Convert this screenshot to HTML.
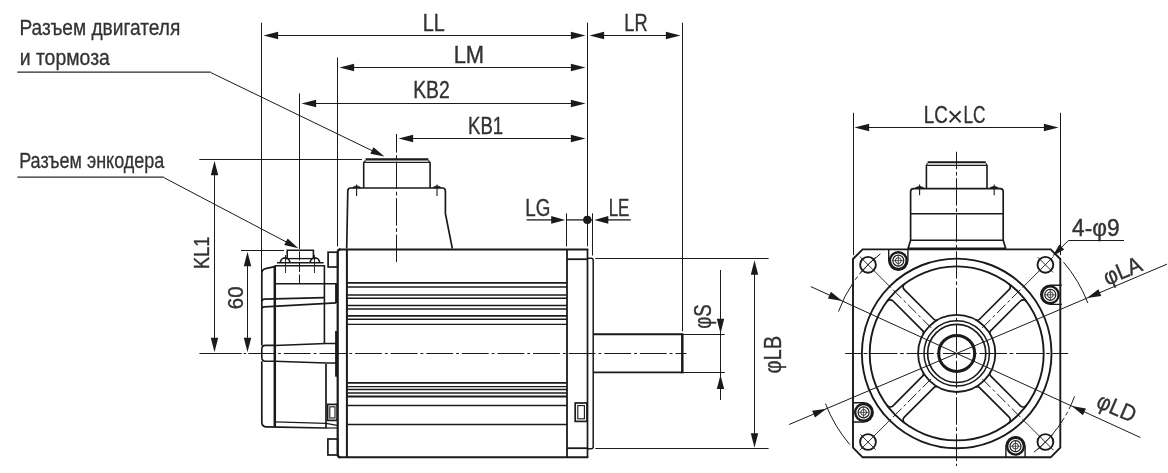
<!DOCTYPE html>
<html><head><meta charset="utf-8"><title>Motor dimensions</title>
<style>
html,body{margin:0;padding:0;background:#fff;}
body{width:1168px;height:473px;overflow:hidden;}
svg{display:block;font-family:"Liberation Sans",sans-serif;will-change:transform;}
</style></head><body>
<svg width="1168" height="473" viewBox="0 0 1168 473">
<rect x="0" y="0" width="1168" height="473" fill="#ffffff"/>
<text x="19.51" y="34.70" font-size="21.8" textLength="160.74" lengthAdjust="spacingAndGlyphs" text-anchor="start" fill="#333131" stroke="#333131" stroke-width="0.3">Разъем двигателя</text>
<text x="19.71" y="64.70" font-size="21.8" textLength="90.14" lengthAdjust="spacingAndGlyphs" text-anchor="start" fill="#333131" stroke="#333131" stroke-width="0.3">и тормоза</text>
<line x1="17.30" y1="72.10" x2="210.70" y2="72.10" stroke="#2a2a2a" stroke-width="1.2" stroke-linecap="butt"/>
<line x1="210.70" y1="72.50" x2="379.00" y2="154.00" stroke="#1a1a1a" stroke-width="1.0" stroke-linecap="butt"/>
<polygon points="384.50,156.50 370.33,153.64 373.47,147.16" fill="#1a1a1a"/>
<text x="19.19" y="168.20" font-size="21.8" textLength="145.16" lengthAdjust="spacingAndGlyphs" text-anchor="start" fill="#333131" stroke="#333131" stroke-width="0.3">Разъем энкодера</text>
<line x1="17.30" y1="177.10" x2="163.70" y2="177.10" stroke="#2a2a2a" stroke-width="1.2" stroke-linecap="butt"/>
<line x1="163.70" y1="177.50" x2="293.00" y2="245.50" stroke="#1a1a1a" stroke-width="1.0" stroke-linecap="butt"/>
<polygon points="298.30,248.30 284.24,244.94 287.61,238.57" fill="#1a1a1a"/>
<line x1="261.50" y1="22.70" x2="261.50" y2="272.00" stroke="#1a1a1a" stroke-width="1.0" stroke-linecap="butt"/>
<line x1="587.50" y1="22.70" x2="587.50" y2="246.30" stroke="#1a1a1a" stroke-width="1.0" stroke-linecap="butt"/>
<line x1="682.50" y1="22.70" x2="682.50" y2="331.30" stroke="#1a1a1a" stroke-width="1.0" stroke-linecap="butt"/>
<line x1="337.50" y1="57.40" x2="337.50" y2="246.30" stroke="#1a1a1a" stroke-width="1.0" stroke-linecap="butt"/>
<line x1="299.50" y1="93.40" x2="299.50" y2="240.00" stroke="#1a1a1a" stroke-width="1.0" stroke-linecap="butt"/>
<line x1="266.50" y1="35.50" x2="582.50" y2="35.50" stroke="#1a1a1a" stroke-width="1.0" stroke-linecap="butt"/>
<polygon points="263.50,35.50 278.10,31.80 278.10,39.20" fill="#1a1a1a"/>
<polygon points="585.50,35.50 570.90,39.20 570.90,31.80" fill="#1a1a1a"/>
<text x="422.76" y="30.50" font-size="23.0" textLength="22.02" lengthAdjust="spacingAndGlyphs" text-anchor="start" fill="#333131" stroke="#333131" stroke-width="0.36">LL</text>
<line x1="592.50" y1="35.50" x2="677.50" y2="35.50" stroke="#1a1a1a" stroke-width="1.0" stroke-linecap="butt"/>
<polygon points="589.50,35.50 604.10,31.80 604.10,39.20" fill="#1a1a1a"/>
<polygon points="680.50,35.50 665.90,39.20 665.90,31.80" fill="#1a1a1a"/>
<text x="624.29" y="30.50" font-size="23.0" textLength="23.28" lengthAdjust="spacingAndGlyphs" text-anchor="start" fill="#333131" stroke="#333131" stroke-width="0.36">LR</text>
<line x1="342.50" y1="67.50" x2="582.50" y2="67.50" stroke="#1a1a1a" stroke-width="1.0" stroke-linecap="butt"/>
<polygon points="339.50,67.50 354.10,63.80 354.10,71.20" fill="#1a1a1a"/>
<polygon points="585.50,67.50 570.90,71.20 570.90,63.80" fill="#1a1a1a"/>
<text x="453.68" y="62.50" font-size="23.0" textLength="30.43" lengthAdjust="spacingAndGlyphs" text-anchor="start" fill="#333131" stroke="#333131" stroke-width="0.36">LM</text>
<line x1="304.50" y1="103.50" x2="582.50" y2="103.50" stroke="#1a1a1a" stroke-width="1.0" stroke-linecap="butt"/>
<polygon points="301.50,103.50 316.10,99.80 316.10,107.20" fill="#1a1a1a"/>
<polygon points="585.50,103.50 570.90,107.20 570.90,99.80" fill="#1a1a1a"/>
<text x="413.19" y="97.90" font-size="23.0" textLength="36.60" lengthAdjust="spacingAndGlyphs" text-anchor="start" fill="#333131" stroke="#333131" stroke-width="0.36">KB2</text>
<line x1="401.50" y1="138.50" x2="582.50" y2="138.50" stroke="#1a1a1a" stroke-width="1.0" stroke-linecap="butt"/>
<polygon points="398.50,138.50 413.10,134.80 413.10,142.20" fill="#1a1a1a"/>
<polygon points="585.50,138.50 570.90,142.20 570.90,134.80" fill="#1a1a1a"/>
<text x="468.06" y="133.50" font-size="23.0" textLength="35.07" lengthAdjust="spacingAndGlyphs" text-anchor="start" fill="#333131" stroke="#333131" stroke-width="0.36">KB1</text>
<line x1="199.30" y1="159.50" x2="362.00" y2="159.50" stroke="#1a1a1a" stroke-width="1.0" stroke-linecap="butt"/>
<line x1="214.50" y1="163.70" x2="214.50" y2="349.30" stroke="#1a1a1a" stroke-width="1.0" stroke-linecap="butt"/>
<polygon points="214.50,160.70 218.20,175.30 210.80,175.30" fill="#1a1a1a"/>
<polygon points="214.50,352.30 210.80,337.70 218.20,337.70" fill="#1a1a1a"/>
<text x="209.20" y="268.90" font-size="22.4" textLength="32.21" lengthAdjust="spacingAndGlyphs" text-anchor="start" fill="#333131" stroke="#333131" stroke-width="0.36" transform="rotate(-90 209.20 268.90)">KL1</text>
<line x1="241.00" y1="250.50" x2="284.00" y2="250.50" stroke="#1a1a1a" stroke-width="1.0" stroke-linecap="butt"/>
<line x1="247.50" y1="254.70" x2="247.50" y2="349.30" stroke="#1a1a1a" stroke-width="1.0" stroke-linecap="butt"/>
<polygon points="247.50,251.70 251.20,266.30 243.80,266.30" fill="#1a1a1a"/>
<polygon points="247.50,352.30 243.80,337.70 251.20,337.70" fill="#1a1a1a"/>
<text x="243.00" y="309.15" font-size="22.4" textLength="22.56" lengthAdjust="spacingAndGlyphs" text-anchor="start" fill="#333131" stroke="#333131" stroke-width="0.36" transform="rotate(-90 243.00 309.15)">60</text>
<line x1="526.60" y1="219.90" x2="553.00" y2="219.90" stroke="#1a1a1a" stroke-width="1.3" stroke-linecap="butt"/>
<line x1="566.50" y1="219.90" x2="592.50" y2="219.90" stroke="#1a1a1a" stroke-width="1.3" stroke-linecap="butt"/>
<line x1="606.00" y1="219.90" x2="630.80" y2="219.90" stroke="#1a1a1a" stroke-width="1.3" stroke-linecap="butt"/>
<line x1="566.50" y1="213.30" x2="566.50" y2="246.30" stroke="#1a1a1a" stroke-width="1.0" stroke-linecap="butt"/>
<line x1="592.50" y1="213.30" x2="592.50" y2="255.50" stroke="#1a1a1a" stroke-width="1.0" stroke-linecap="butt"/>
<polygon points="565.20,219.90 551.20,223.80 551.20,216.00" fill="#1a1a1a"/>
<polygon points="594.30,219.90 608.30,216.00 608.30,223.80" fill="#1a1a1a"/>
<circle cx="587.30" cy="219.90" r="4.10" fill="#1a1a1a" stroke="#1a1a1a" stroke-width="0"/>
<text x="525.24" y="215.70" font-size="23.0" textLength="25.09" lengthAdjust="spacingAndGlyphs" text-anchor="start" fill="#333131" stroke="#333131" stroke-width="0.36">LG</text>
<text x="608.69" y="215.70" font-size="23.0" textLength="20.76" lengthAdjust="spacingAndGlyphs" text-anchor="start" fill="#333131" stroke="#333131" stroke-width="0.36">LE</text>
<line x1="682.50" y1="334.50" x2="724.70" y2="334.50" stroke="#1a1a1a" stroke-width="1.0" stroke-linecap="butt"/>
<line x1="682.50" y1="372.50" x2="724.70" y2="372.50" stroke="#1a1a1a" stroke-width="1.0" stroke-linecap="butt"/>
<line x1="720.50" y1="270.00" x2="720.50" y2="400.00" stroke="#1a1a1a" stroke-width="1.0" stroke-linecap="butt"/>
<polygon points="720.50,333.40 716.80,318.80 724.20,318.80" fill="#1a1a1a"/>
<polygon points="720.50,375.00 724.20,389.00 716.80,389.00" fill="#1a1a1a"/>
<text x="710.70" y="328.79" font-size="23.0" textLength="24.47" lengthAdjust="spacingAndGlyphs" text-anchor="start" fill="#333131" stroke="#333131" stroke-width="0.36" transform="rotate(-90 710.70 328.79)">φS</text>
<line x1="595.30" y1="258.50" x2="768.60" y2="258.50" stroke="#1a1a1a" stroke-width="1.0" stroke-linecap="butt"/>
<line x1="595.30" y1="448.50" x2="768.60" y2="448.50" stroke="#1a1a1a" stroke-width="1.0" stroke-linecap="butt"/>
<line x1="754.50" y1="263.20" x2="754.50" y2="444.80" stroke="#1a1a1a" stroke-width="1.0" stroke-linecap="butt"/>
<polygon points="754.50,260.20 758.20,274.80 750.80,274.80" fill="#1a1a1a"/>
<polygon points="754.50,447.80 750.80,433.20 758.20,433.20" fill="#1a1a1a"/>
<text x="781.30" y="373.46" font-size="23.0" textLength="37.74" lengthAdjust="spacingAndGlyphs" text-anchor="start" fill="#333131" stroke="#333131" stroke-width="0.36" transform="rotate(-90 781.30 373.46)">φLB</text>
<line x1="199.40" y1="353.50" x2="241.70" y2="353.50" stroke="#1a1a1a" stroke-width="1.0" stroke-linecap="butt"/>
<line x1="243.60" y1="353.50" x2="246.00" y2="353.50" stroke="#1a1a1a" stroke-width="1.0" stroke-linecap="butt"/>
<line x1="248.30" y1="353.50" x2="686.50" y2="353.50" stroke="#1a1a1a" stroke-width="1.0" stroke-dasharray="26.8 3 2.8 3" stroke-linecap="butt"/>
<line x1="339.00" y1="249.40" x2="588.30" y2="249.40" stroke="#1a1a1a" stroke-width="2.0" stroke-linecap="butt"/>
<line x1="339.00" y1="457.20" x2="588.30" y2="457.20" stroke="#1a1a1a" stroke-width="2.0" stroke-linecap="butt"/>
<path d="M340.5,249.4 Q337.7,249.4 337.7,252.20000000000002 V454.4 Q337.7,457.2 340.5,457.2" fill="none" stroke="#1a1a1a" stroke-width="2.2" stroke-linejoin="round" stroke-linecap="butt"/>
<line x1="346.90" y1="249.40" x2="346.90" y2="457.20" stroke="#1a1a1a" stroke-width="2.0" stroke-linecap="butt"/>
<line x1="567.00" y1="249.40" x2="567.00" y2="457.20" stroke="#1a1a1a" stroke-width="1.8" stroke-linecap="butt"/>
<line x1="587.50" y1="249.40" x2="587.50" y2="457.20" stroke="#1a1a1a" stroke-width="1.7" stroke-linecap="butt"/>
<line x1="567.00" y1="259.20" x2="587.50" y2="259.20" stroke="#1a1a1a" stroke-width="1.8" stroke-linecap="butt"/>
<line x1="567.00" y1="448.20" x2="587.50" y2="448.20" stroke="#1a1a1a" stroke-width="1.8" stroke-linecap="butt"/>
<path d="M587.5,258.3 H591.2 Q593.2,258.3 593.2,260.3 V446.7 Q593.2,448.7 591.2,448.7 H587.5" fill="none" stroke="#1a1a1a" stroke-width="1.5" stroke-linejoin="round" stroke-linecap="butt"/>
<path d="M593,334.3 H682.5 M682.5,372.4 H593" fill="none" stroke="#1a1a1a" stroke-width="1.9" stroke-linejoin="miter" stroke-linecap="butt"/>
<line x1="682.30" y1="333.40" x2="682.30" y2="373.30" stroke="#1a1a1a" stroke-width="2.5" stroke-linecap="butt"/>
<line x1="346.90" y1="282.90" x2="567.00" y2="282.90" stroke="#1a1a1a" stroke-width="1.7" stroke-linecap="butt"/>
<line x1="346.90" y1="287.00" x2="567.00" y2="287.00" stroke="#1a1a1a" stroke-width="1.4" stroke-linecap="butt"/>
<line x1="346.90" y1="295.00" x2="567.00" y2="295.00" stroke="#1a1a1a" stroke-width="1.7" stroke-linecap="butt"/>
<line x1="346.90" y1="298.30" x2="567.00" y2="298.30" stroke="#1a1a1a" stroke-width="1.4" stroke-linecap="butt"/>
<line x1="346.90" y1="305.50" x2="567.00" y2="305.50" stroke="#1a1a1a" stroke-width="1.5" stroke-linecap="butt"/>
<line x1="346.90" y1="309.00" x2="567.00" y2="309.00" stroke="#1a1a1a" stroke-width="1.6" stroke-linecap="butt"/>
<line x1="346.90" y1="315.90" x2="567.00" y2="315.90" stroke="#1a1a1a" stroke-width="1.7" stroke-linecap="butt"/>
<line x1="346.90" y1="319.20" x2="567.00" y2="319.20" stroke="#1a1a1a" stroke-width="1.4" stroke-linecap="butt"/>
<line x1="346.90" y1="324.40" x2="567.00" y2="324.40" stroke="#1a1a1a" stroke-width="1.3" stroke-linecap="butt"/>
<line x1="346.90" y1="382.90" x2="567.00" y2="382.90" stroke="#1a1a1a" stroke-width="1.7" stroke-linecap="butt"/>
<line x1="346.90" y1="386.60" x2="567.00" y2="386.60" stroke="#1a1a1a" stroke-width="1.3" stroke-linecap="butt"/>
<line x1="346.90" y1="389.50" x2="567.00" y2="389.50" stroke="#1a1a1a" stroke-width="1.6" stroke-linecap="butt"/>
<line x1="346.90" y1="393.00" x2="567.00" y2="393.00" stroke="#1a1a1a" stroke-width="1.4" stroke-linecap="butt"/>
<line x1="346.90" y1="396.50" x2="567.00" y2="396.50" stroke="#1a1a1a" stroke-width="1.8" stroke-linecap="butt"/>
<line x1="346.90" y1="405.50" x2="567.00" y2="405.50" stroke="#1a1a1a" stroke-width="1.5" stroke-linecap="butt"/>
<line x1="346.90" y1="424.40" x2="567.00" y2="424.40" stroke="#1a1a1a" stroke-width="1.5" stroke-linecap="butt"/>
<rect x="575.20" y="403.00" width="11.80" height="18.40" rx="0" fill="none" stroke="#1a1a1a" stroke-width="1.7"/>
<rect x="577.80" y="405.60" width="6.60" height="13.20" rx="0" fill="none" stroke="#1a1a1a" stroke-width="1.1"/>
<path d="M365.6,159.4 H428.4" fill="none" stroke="#1a1a1a" stroke-width="2.2" stroke-linejoin="round" stroke-linecap="butt"/>
<path d="M365.6,160.4 L363.7,162.4 H430.1 L428.4,160.4" fill="none" stroke="#1a1a1a" stroke-width="1.1" stroke-linejoin="round" stroke-linecap="butt"/>
<path d="M363.7,162.4 V187.9 M430.1,162.4 V187.9" fill="none" stroke="#1a1a1a" stroke-width="1.6" stroke-linejoin="round" stroke-linecap="butt"/>
<path d="M346.7,248.6 L347.8,191 Q347.8,188 350.8,188 H442.4 Q445.4,188 445.4,191 V213.5 L452.2,247.8 V248.6" fill="none" stroke="#1a1a1a" stroke-width="1.7" stroke-linejoin="round" stroke-linecap="butt"/>
<line x1="356.60" y1="184.50" x2="356.60" y2="196.00" stroke="#1a1a1a" stroke-width="1.1" stroke-linecap="butt"/>
<line x1="437.00" y1="184.50" x2="437.00" y2="196.00" stroke="#1a1a1a" stroke-width="1.1" stroke-linecap="butt"/>
<path d="M352.4,187.6 Q356.6,184.4 360.8,187.6 Z M432.8,187.6 Q437,184.4 441.2,187.6 Z" fill="#1a1a1a" stroke="#1a1a1a" stroke-width="0.8" stroke-linejoin="round" stroke-linecap="butt"/>
<line x1="396.50" y1="134.00" x2="396.50" y2="263.00" stroke="#1a1a1a" stroke-width="1.0" stroke-dasharray="27.5 2.6 3.8 2.6" stroke-dashoffset="8.9" stroke-linecap="butt"/>
<rect x="328.10" y="252.20" width="9.60" height="14.80" rx="0" fill="none" stroke="#1a1a1a" stroke-width="1.7"/>
<rect x="327.90" y="439.00" width="9.80" height="16.00" rx="0" fill="none" stroke="#1a1a1a" stroke-width="1.7"/>
<rect x="327.60" y="404.40" width="9.60" height="16.00" rx="0" fill="none" stroke="#1a1a1a" stroke-width="1.7"/>
<rect x="329.80" y="406.80" width="5.20" height="11.20" rx="0" fill="none" stroke="#1a1a1a" stroke-width="1.1"/>
<path d="M274.6,266.6 L265.5,268.6 Q261.8,269.4 261.8,273.6 V345.4 M261.8,361.2 V422 Q261.8,426.9 266.6,426.9 L326,428 V364" fill="none" stroke="#1a1a1a" stroke-width="1.7" stroke-linejoin="round" stroke-linecap="butt"/>
<line x1="274.80" y1="265.70" x2="274.80" y2="427.00" stroke="#1a1a1a" stroke-width="2.5" stroke-linecap="butt"/>
<path d="M274.8,265.7 H324.4 V343.4" fill="none" stroke="#1a1a1a" stroke-width="1.6" stroke-linejoin="miter" stroke-linecap="butt"/>
<path d="M274.8,283.7 H336.2 V302.9" fill="none" stroke="#1a1a1a" stroke-width="1.5" stroke-linejoin="miter" stroke-linecap="butt"/>
<line x1="336.20" y1="283.70" x2="336.20" y2="302.90" stroke="#1a1a1a" stroke-width="2.0" stroke-linecap="butt"/>
<path d="M324.4,297.6 L264.4,299.2 Q261.8,299.3 261.8,301.5" fill="none" stroke="#1a1a1a" stroke-width="1.7" stroke-linejoin="round" stroke-linecap="butt"/>
<path d="M336.2,302.9 L264.4,306.8 Q261.8,306.9 261.8,309" fill="none" stroke="#1a1a1a" stroke-width="1.7" stroke-linejoin="round" stroke-linecap="butt"/>
<path d="M274.8,345.4 H265.4 Q261.8,345.4 261.8,349 V357.6 Q261.8,361.2 265.4,361.2 H274.8" fill="none" stroke="#1a1a1a" stroke-width="1.6" stroke-linejoin="round" stroke-linecap="butt"/>
<path d="M274.8,345.4 L326,343.4 H336.4 M274.8,361.2 L326,363.1 H336.4" fill="none" stroke="#1a1a1a" stroke-width="1.5" stroke-linejoin="round" stroke-linecap="butt"/>
<line x1="336.20" y1="331.00" x2="336.20" y2="376.70" stroke="#1a1a1a" stroke-width="2.2" stroke-linecap="butt"/>
<path d="M274.8,421.8 L326,423.3 L337,425.4" fill="none" stroke="#1a1a1a" stroke-width="1.2" stroke-linejoin="round" stroke-linecap="butt"/>
<line x1="326.00" y1="428.00" x2="337.00" y2="428.00" stroke="#1a1a1a" stroke-width="1.2" stroke-linecap="butt"/>
<path d="M287.2,258.6 V250.3 H313.4 V258.6" fill="none" stroke="#1a1a1a" stroke-width="1.6" stroke-linejoin="miter" stroke-linecap="butt"/>
<path d="M280.4,262.8 A4.7,4.9 0 0 1 289.8,262.8 M310.2,262.8 A4.7,4.9 0 0 1 319.6,262.8" fill="none" stroke="#1a1a1a" stroke-width="1.7" stroke-linejoin="round" stroke-linecap="butt"/>
<line x1="277.00" y1="262.80" x2="323.60" y2="262.80" stroke="#1a1a1a" stroke-width="1.4" stroke-linecap="butt"/>
<line x1="284.50" y1="258.60" x2="315.60" y2="258.60" stroke="#1a1a1a" stroke-width="1.3" stroke-linecap="butt"/>
<line x1="285.50" y1="255.00" x2="285.50" y2="273.00" stroke="#1a1a1a" stroke-width="0.9" stroke-linecap="butt"/>
<line x1="314.50" y1="255.00" x2="314.50" y2="273.00" stroke="#1a1a1a" stroke-width="0.9" stroke-linecap="butt"/>
<line x1="299.50" y1="240.00" x2="299.50" y2="285.50" stroke="#1a1a1a" stroke-width="1.0" stroke-dasharray="9 2.5" stroke-linecap="butt"/>
<line x1="853.50" y1="112.80" x2="853.50" y2="255.20" stroke="#1a1a1a" stroke-width="1.0" stroke-linecap="butt"/>
<line x1="1060.50" y1="112.80" x2="1060.50" y2="255.20" stroke="#1a1a1a" stroke-width="1.0" stroke-linecap="butt"/>
<line x1="857.50" y1="127.50" x2="1055.50" y2="127.50" stroke="#1a1a1a" stroke-width="1.0" stroke-linecap="butt"/>
<polygon points="854.50,127.50 869.10,123.80 869.10,131.20" fill="#1a1a1a"/>
<polygon points="1058.50,127.50 1043.90,131.20 1043.90,123.80" fill="#1a1a1a"/>
<text x="923.84" y="122.90" font-size="23.0" textLength="23.99" lengthAdjust="spacingAndGlyphs" text-anchor="start" fill="#333131" stroke="#333131" stroke-width="0.36">LC</text>
<text x="947.07" y="125.80" font-size="27.8" textLength="16.24" lengthAdjust="spacingAndGlyphs" text-anchor="start" fill="#333131">×</text>
<text x="963.47" y="122.90" font-size="23.0" textLength="22.01" lengthAdjust="spacingAndGlyphs" text-anchor="start" fill="#333131" stroke="#333131" stroke-width="0.36">LC</text>
<path d="M862.6,249.4 H1050.7 L1060.3,259.0 V447.7 L1050.7,457.3 H862.6 L853.0,447.7 V259.0 Z" fill="none" stroke="#1a1a1a" stroke-width="1.9" stroke-linejoin="miter" stroke-linecap="butt"/>
<line x1="956.50" y1="151.70" x2="956.50" y2="466.00" stroke="#1a1a1a" stroke-width="1.0" stroke-dasharray="27.5 2.6 3.8 2.6" stroke-dashoffset="10" stroke-linecap="butt"/>
<line x1="845.20" y1="353.50" x2="1068.20" y2="353.50" stroke="#1a1a1a" stroke-width="1.0" stroke-dasharray="27.5 2.6 3.8 2.6" stroke-dashoffset="121.25" stroke-linecap="butt"/>
<circle cx="956.70" cy="353.40" r="94.80" fill="none" stroke="#1a1a1a" stroke-width="1.9"/>
<circle cx="956.70" cy="353.40" r="87.00" fill="none" stroke="#1a1a1a" stroke-width="1.9"/>
<circle cx="956.70" cy="353.40" r="38.60" fill="none" stroke="#1a1a1a" stroke-width="1.8"/>
<circle cx="956.70" cy="353.40" r="32.70" fill="none" stroke="#1a1a1a" stroke-width="1.5"/>
<circle cx="956.70" cy="353.40" r="29.10" fill="none" stroke="#1a1a1a" stroke-width="1.7"/>
<circle cx="956.70" cy="353.40" r="18.00" fill="none" stroke="#1a1a1a" stroke-width="3.0"/>
<path d="M975.68,387.01 A3.2,3.2 0 0 1 979.52,387.53 L1009.12,417.13 A4.0,4.0 0 0 1 1008.68,423.17" fill="none" stroke="#1a1a1a" stroke-width="1.7" stroke-linejoin="round" stroke-linecap="butt"/>
<path d="M990.31,372.38 A3.2,3.2 0 0 0 990.83,376.22 L1020.43,405.82 A4.0,4.0 0 0 0 1026.47,405.38" fill="none" stroke="#1a1a1a" stroke-width="1.7" stroke-linejoin="round" stroke-linecap="butt"/>
<line x1="982.16" y1="378.86" x2="1024.58" y2="421.28" stroke="#1a1a1a" stroke-width="1.0" stroke-dasharray="12 3 3 3" stroke-linecap="butt"/>
<line x1="1024.58" y1="421.28" x2="1053.57" y2="450.27" stroke="#1a1a1a" stroke-width="0.9" stroke-linecap="butt"/>
<path d="M923.09,372.38 A3.2,3.2 0 0 1 922.57,376.22 L892.97,405.82 A4.0,4.0 0 0 1 886.93,405.38" fill="none" stroke="#1a1a1a" stroke-width="1.7" stroke-linejoin="round" stroke-linecap="butt"/>
<path d="M937.72,387.01 A3.2,3.2 0 0 0 933.88,387.53 L904.28,417.13 A4.0,4.0 0 0 0 904.72,423.17" fill="none" stroke="#1a1a1a" stroke-width="1.7" stroke-linejoin="round" stroke-linecap="butt"/>
<line x1="931.24" y1="378.86" x2="888.82" y2="421.28" stroke="#1a1a1a" stroke-width="1.0" stroke-dasharray="12 3 3 3" stroke-linecap="butt"/>
<line x1="888.82" y1="421.28" x2="859.83" y2="450.27" stroke="#1a1a1a" stroke-width="0.9" stroke-linecap="butt"/>
<path d="M937.72,319.79 A3.2,3.2 0 0 1 933.88,319.27 L904.28,289.67 A4.0,4.0 0 0 1 904.72,283.63" fill="none" stroke="#1a1a1a" stroke-width="1.7" stroke-linejoin="round" stroke-linecap="butt"/>
<path d="M923.09,334.42 A3.2,3.2 0 0 0 922.57,330.58 L892.97,300.98 A4.0,4.0 0 0 0 886.93,301.42" fill="none" stroke="#1a1a1a" stroke-width="1.7" stroke-linejoin="round" stroke-linecap="butt"/>
<line x1="931.24" y1="327.94" x2="888.82" y2="285.52" stroke="#1a1a1a" stroke-width="1.0" stroke-dasharray="12 3 3 3" stroke-linecap="butt"/>
<line x1="888.82" y1="285.52" x2="859.83" y2="256.53" stroke="#1a1a1a" stroke-width="0.9" stroke-linecap="butt"/>
<path d="M990.31,334.42 A3.2,3.2 0 0 1 990.83,330.58 L1020.43,300.98 A4.0,4.0 0 0 1 1026.47,301.42" fill="none" stroke="#1a1a1a" stroke-width="1.7" stroke-linejoin="round" stroke-linecap="butt"/>
<path d="M975.68,319.79 A3.2,3.2 0 0 0 979.52,319.27 L1009.12,289.67 A4.0,4.0 0 0 0 1008.68,283.63" fill="none" stroke="#1a1a1a" stroke-width="1.7" stroke-linejoin="round" stroke-linecap="butt"/>
<line x1="982.16" y1="327.94" x2="1024.58" y2="285.52" stroke="#1a1a1a" stroke-width="1.0" stroke-dasharray="12 3 3 3" stroke-linecap="butt"/>
<line x1="1024.58" y1="285.52" x2="1053.57" y2="256.53" stroke="#1a1a1a" stroke-width="0.9" stroke-linecap="butt"/>
<circle cx="868.00" cy="264.80" r="7.90" fill="none" stroke="#1a1a1a" stroke-width="1.9"/>
<line x1="875.60" y1="257.20" x2="860.40" y2="272.40" stroke="#1a1a1a" stroke-width="0.9" stroke-linecap="butt"/>
<circle cx="1045.40" cy="264.80" r="7.90" fill="none" stroke="#1a1a1a" stroke-width="1.9"/>
<line x1="1037.80" y1="257.20" x2="1053.00" y2="272.40" stroke="#1a1a1a" stroke-width="0.9" stroke-linecap="butt"/>
<circle cx="1045.40" cy="442.00" r="7.90" fill="none" stroke="#1a1a1a" stroke-width="1.9"/>
<line x1="1037.80" y1="449.60" x2="1053.00" y2="434.40" stroke="#1a1a1a" stroke-width="0.9" stroke-linecap="butt"/>
<circle cx="868.00" cy="442.00" r="7.90" fill="none" stroke="#1a1a1a" stroke-width="1.9"/>
<line x1="875.60" y1="449.60" x2="860.40" y2="434.40" stroke="#1a1a1a" stroke-width="0.9" stroke-linecap="butt"/>
<circle cx="898.30" cy="260.60" r="8.40" fill="none" stroke="#1a1a1a" stroke-width="2.4"/>
<circle cx="898.30" cy="260.60" r="5.50" fill="none" stroke="#1a1a1a" stroke-width="1.2"/>
<circle cx="898.30" cy="260.60" r="2.90" fill="none" stroke="#1a1a1a" stroke-width="0.9"/>
<line x1="893.10" y1="260.60" x2="903.50" y2="260.60" stroke="#1a1a1a" stroke-width="0.7" stroke-linecap="butt"/>
<line x1="898.30" y1="255.40" x2="898.30" y2="265.80" stroke="#1a1a1a" stroke-width="0.7" stroke-linecap="butt"/>
<path d="M907.90,249.10 L907.90,260.60 A9.6,9.6 0 0 1 888.70,260.60 L888.70,249.10" fill="none" stroke="#1a1a1a" stroke-width="1.4" stroke-linejoin="round" stroke-linecap="butt"/>
<circle cx="1050.30" cy="294.80" r="8.40" fill="none" stroke="#1a1a1a" stroke-width="2.4"/>
<circle cx="1050.30" cy="294.80" r="5.50" fill="none" stroke="#1a1a1a" stroke-width="1.2"/>
<circle cx="1050.30" cy="294.80" r="2.90" fill="none" stroke="#1a1a1a" stroke-width="0.9"/>
<line x1="1045.10" y1="294.80" x2="1055.50" y2="294.80" stroke="#1a1a1a" stroke-width="0.7" stroke-linecap="butt"/>
<line x1="1050.30" y1="289.60" x2="1050.30" y2="300.00" stroke="#1a1a1a" stroke-width="0.7" stroke-linecap="butt"/>
<path d="M1061.80,304.40 L1050.30,304.40 A9.6,9.6 0 0 1 1050.30,285.20 L1061.80,285.20" fill="none" stroke="#1a1a1a" stroke-width="1.4" stroke-linejoin="round" stroke-linecap="butt"/>
<circle cx="1015.50" cy="446.20" r="8.40" fill="none" stroke="#1a1a1a" stroke-width="2.4"/>
<circle cx="1015.50" cy="446.20" r="5.50" fill="none" stroke="#1a1a1a" stroke-width="1.2"/>
<circle cx="1015.50" cy="446.20" r="2.90" fill="none" stroke="#1a1a1a" stroke-width="0.9"/>
<line x1="1010.30" y1="446.20" x2="1020.70" y2="446.20" stroke="#1a1a1a" stroke-width="0.7" stroke-linecap="butt"/>
<line x1="1015.50" y1="441.00" x2="1015.50" y2="451.40" stroke="#1a1a1a" stroke-width="0.7" stroke-linecap="butt"/>
<path d="M1005.90,457.70 L1005.90,446.20 A9.6,9.6 0 0 1 1025.10,446.20 L1025.10,457.70" fill="none" stroke="#1a1a1a" stroke-width="1.4" stroke-linejoin="round" stroke-linecap="butt"/>
<circle cx="863.60" cy="412.40" r="8.40" fill="none" stroke="#1a1a1a" stroke-width="2.4"/>
<circle cx="863.60" cy="412.40" r="5.50" fill="none" stroke="#1a1a1a" stroke-width="1.2"/>
<circle cx="863.60" cy="412.40" r="2.90" fill="none" stroke="#1a1a1a" stroke-width="0.9"/>
<line x1="858.40" y1="412.40" x2="868.80" y2="412.40" stroke="#1a1a1a" stroke-width="0.7" stroke-linecap="butt"/>
<line x1="863.60" y1="407.20" x2="863.60" y2="417.60" stroke="#1a1a1a" stroke-width="0.7" stroke-linecap="butt"/>
<path d="M852.10,402.80 L863.60,402.80 A9.6,9.6 0 0 1 863.60,422.00 L852.10,422.00" fill="none" stroke="#1a1a1a" stroke-width="1.4" stroke-linejoin="round" stroke-linecap="butt"/>
<path d="M927.6,162.3 H985.8" fill="none" stroke="#1a1a1a" stroke-width="2.0" stroke-linejoin="round" stroke-linecap="butt"/>
<path d="M927.4,163.2 L926.2,165.4 H987.2 L986,163.2" fill="none" stroke="#1a1a1a" stroke-width="1.1" stroke-linejoin="round" stroke-linecap="butt"/>
<path d="M926.4,165.4 V188.5 M987.0,165.4 V188.5" fill="none" stroke="#1a1a1a" stroke-width="1.6" stroke-linejoin="round" stroke-linecap="butt"/>
<path d="M908.2,248.2 L910.6,240.2 V191.6 Q910.6,188.6 913.6,188.6 H1000.2 Q1003.2,188.6 1003.2,191.6 V240.2 L1005.6,248.2" fill="none" stroke="#1a1a1a" stroke-width="1.7" stroke-linejoin="round" stroke-linecap="butt"/>
<line x1="910.60" y1="213.80" x2="1003.20" y2="213.80" stroke="#1a1a1a" stroke-width="1.5" stroke-linecap="butt"/>
<line x1="910.60" y1="240.30" x2="1003.20" y2="240.30" stroke="#1a1a1a" stroke-width="1.5" stroke-linecap="butt"/>
<line x1="907.40" y1="248.40" x2="1006.40" y2="248.40" stroke="#1a1a1a" stroke-width="2.0" stroke-linecap="butt"/>
<line x1="919.60" y1="184.50" x2="919.60" y2="195.20" stroke="#1a1a1a" stroke-width="1.1" stroke-linecap="butt"/>
<line x1="994.20" y1="184.50" x2="994.20" y2="195.20" stroke="#1a1a1a" stroke-width="1.1" stroke-linecap="butt"/>
<path d="M915.4,188 Q919.6,184.8 923.8,188 Z M990,188 Q994.2,184.8 998.4,188 Z" fill="#1a1a1a" stroke="#1a1a1a" stroke-width="0.8" stroke-linejoin="round" stroke-linecap="butt"/>
<line x1="789.17" y1="424.51" x2="1167.04" y2="264.12" stroke="#1a1a1a" stroke-width="1.0" stroke-linecap="butt"/>
<polygon points="1086.95,298.11 1098.43,289.33 1101.25,295.96" fill="#1a1a1a"/>
<polygon points="826.45,408.69 814.97,417.47 812.15,410.84" fill="#1a1a1a"/>
<line x1="810.77" y1="286.59" x2="1140.37" y2="437.49" stroke="#1a1a1a" stroke-width="1.0" stroke-linecap="butt"/>
<polygon points="1071.72,406.06 1085.95,408.61 1082.95,415.16" fill="#1a1a1a"/>
<polygon points="842.14,300.95 827.91,298.39 830.91,291.85" fill="#1a1a1a"/>
<path d="M1063.54,262.15 A140.5,140.5 0 0 1 1087.87,303.05" fill="none" stroke="#1a1a1a" stroke-width="1.0" stroke-linejoin="round" stroke-linecap="butt"/>
<path d="M849.86,444.65 A140.5,140.5 0 0 1 825.53,403.75" fill="none" stroke="#1a1a1a" stroke-width="1.0" stroke-linejoin="round" stroke-linecap="butt"/>
<path d="M838.49,311.54 A125.4,125.4 0 0 1 880.36,253.91" fill="none" stroke="#1a1a1a" stroke-width="1.0" stroke-linejoin="round" stroke-linecap="butt" stroke-dasharray="33 3 4 3 60"/>
<path d="M1074.54,396.29 A125.4,125.4 0 0 1 1033.90,452.22" fill="none" stroke="#1a1a1a" stroke-width="1.0" stroke-linejoin="round" stroke-linecap="butt" stroke-dasharray="14 3 4 3 100"/>
<text x="1072.06" y="235.70" font-size="23.0" textLength="47.43" lengthAdjust="spacingAndGlyphs" text-anchor="start" fill="#333131" stroke="#333131" stroke-width="0.36">4-φ9</text>
<line x1="1068.30" y1="240.50" x2="1124.00" y2="240.50" stroke="#1a1a1a" stroke-width="1.0" stroke-linecap="butt"/>
<line x1="1068.30" y1="240.60" x2="1057.00" y2="251.80" stroke="#1a1a1a" stroke-width="1.0" stroke-linecap="butt"/>
<polygon points="1052.60,256.20 1059.39,244.60 1064.20,249.41" fill="#1a1a1a"/>
<text x="1107.36" y="285.67" font-size="23.0" textLength="39.56" lengthAdjust="spacingAndGlyphs" text-anchor="start" fill="#333131" stroke="#333131" stroke-width="0.36" transform="rotate(-22.9 1107.36 285.67)">φLA</text>
<text x="1094.96" y="406.72" font-size="23.0" textLength="40.52" lengthAdjust="spacingAndGlyphs" text-anchor="start" fill="#333131" stroke="#333131" stroke-width="0.36" transform="rotate(23.5 1094.96 406.72)">φLD</text>
</svg>
</body></html>
